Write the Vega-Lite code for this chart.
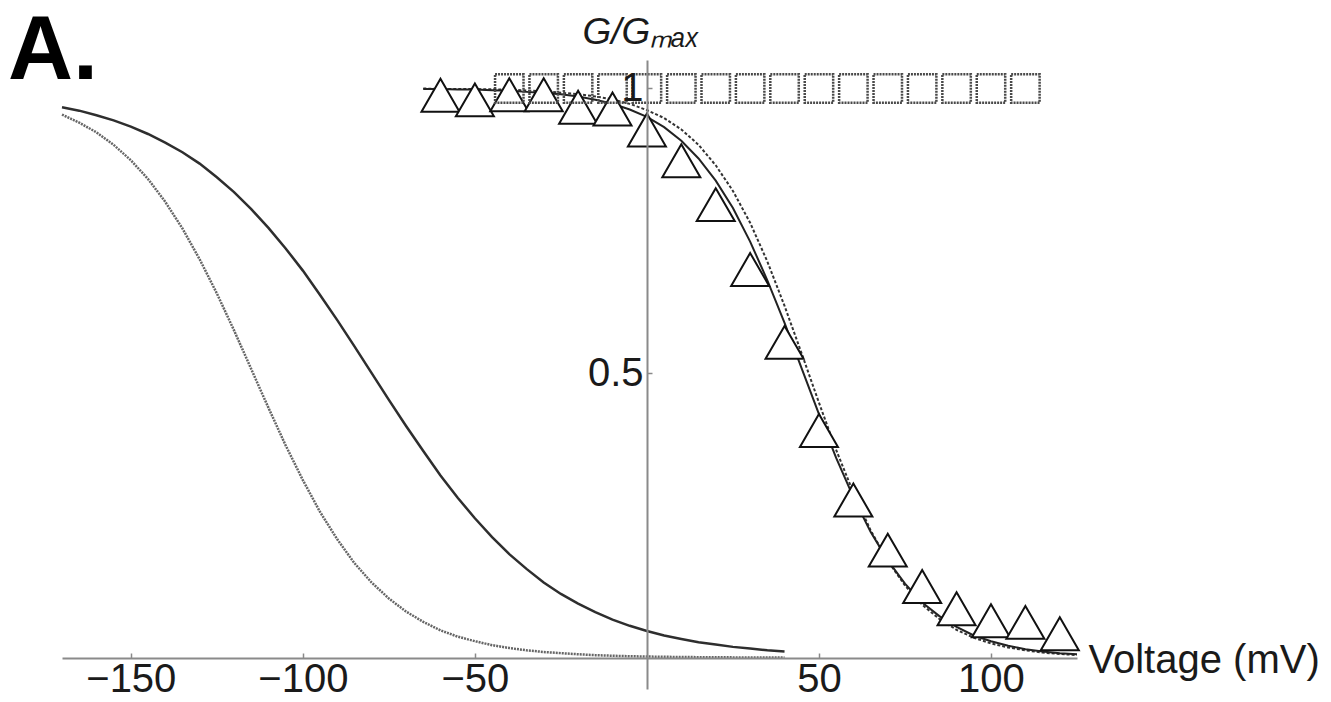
{
  "$schema": "https://vega.github.io/schema/vega-lite/v6.json",
  "autosize": {"type": "none"},
  "padding": {"left": 62, "top": 60, "right": 254, "bottom": 13},
  "width": 1015,
  "height": 629,
  "background": "white",
  "config": {"view": {"stroke": null}},
  "title": {
    "text": "A.",
    "anchor": "start",
    "font": "Liberation Sans",
    "fontSize": 90,
    "fontWeight": "bold",
    "color": "#000000",
    "baseline": "alphabetic",
    "offset": -156,
    "dx": -49,
    "dy": 0
  },
  "datasets": {
    "leftSolid": [
      {"V": -170, "G": 0.967}, {"V": -165, "G": 0.961}, {"V": -160, "G": 0.953}, {"V": -155, "G": 0.944},
      {"V": -150, "G": 0.933}, {"V": -145, "G": 0.920}, {"V": -140, "G": 0.905}, {"V": -135, "G": 0.888},
      {"V": -130, "G": 0.868}, {"V": -125, "G": 0.844}, {"V": -120, "G": 0.818}, {"V": -115, "G": 0.788},
      {"V": -110, "G": 0.755}, {"V": -105, "G": 0.719}, {"V": -100, "G": 0.680}, {"V": -95, "G": 0.637},
      {"V": -90, "G": 0.593}, {"V": -85, "G": 0.547}, {"V": -80, "G": 0.500}, {"V": -75, "G": 0.453},
      {"V": -70, "G": 0.407}, {"V": -65, "G": 0.363}, {"V": -60, "G": 0.320}, {"V": -55, "G": 0.281},
      {"V": -50, "G": 0.245}, {"V": -45, "G": 0.212}, {"V": -40, "G": 0.182}, {"V": -35, "G": 0.156},
      {"V": -30, "G": 0.132}, {"V": -25, "G": 0.112}, {"V": -20, "G": 0.095}, {"V": -15, "G": 0.080},
      {"V": -10, "G": 0.067}, {"V": -5, "G": 0.056}, {"V": 0, "G": 0.047}, {"V": 5, "G": 0.039},
      {"V": 10, "G": 0.033}, {"V": 15, "G": 0.027}, {"V": 20, "G": 0.023}, {"V": 25, "G": 0.019},
      {"V": 30, "G": 0.016}, {"V": 35, "G": 0.013}, {"V": 40, "G": 0.011}
    ],
    "leftDotted": [
      {"V": -170, "G": 0.954}, {"V": -165, "G": 0.940}, {"V": -160, "G": 0.923}, {"V": -155, "G": 0.901},
      {"V": -150, "G": 0.874}, {"V": -145, "G": 0.841}, {"V": -140, "G": 0.801}, {"V": -135, "G": 0.754},
      {"V": -130, "G": 0.700}, {"V": -125, "G": 0.640}, {"V": -120, "G": 0.575}, {"V": -115, "G": 0.507},
      {"V": -110, "G": 0.439}, {"V": -105, "G": 0.373}, {"V": -100, "G": 0.312}, {"V": -95, "G": 0.256},
      {"V": -90, "G": 0.208}, {"V": -85, "G": 0.166}, {"V": -80, "G": 0.132}, {"V": -75, "G": 0.104},
      {"V": -70, "G": 0.081}, {"V": -65, "G": 0.063}, {"V": -60, "G": 0.048}, {"V": -55, "G": 0.037},
      {"V": -50, "G": 0.029}, {"V": -45, "G": 0.022}, {"V": -40, "G": 0.017}, {"V": -35, "G": 0.013},
      {"V": -30, "G": 0.010}, {"V": -25, "G": 0.008}, {"V": -20, "G": 0.006}, {"V": -15, "G": 0.0045},
      {"V": -10, "G": 0.0034}, {"V": -5, "G": 0.0026}, {"V": 0, "G": 0.002}, {"V": 10, "G": 0.0012},
      {"V": 20, "G": 0.0007}, {"V": 30, "G": 0.0004}, {"V": 40, "G": 0.0003}
    ],
    "fitSolid": [
      {"V": -65, "G": 0.999}, {"V": -60, "G": 0.999}, {"V": -55, "G": 0.998}, {"V": -50, "G": 0.998},
      {"V": -45, "G": 0.997}, {"V": -40, "G": 0.996}, {"V": -35, "G": 0.994}, {"V": -30, "G": 0.992},
      {"V": -25, "G": 0.990}, {"V": -20, "G": 0.986}, {"V": -15, "G": 0.980}, {"V": -10, "G": 0.973},
      {"V": -5, "G": 0.963}, {"V": 0, "G": 0.950}, {"V": 5, "G": 0.932}, {"V": 10, "G": 0.908},
      {"V": 15, "G": 0.877}, {"V": 20, "G": 0.838}, {"V": 25, "G": 0.790}, {"V": 30, "G": 0.731},
      {"V": 35, "G": 0.663}, {"V": 40, "G": 0.588}, {"V": 45, "G": 0.508}, {"V": 50, "G": 0.428},
      {"V": 55, "G": 0.351}, {"V": 60, "G": 0.282}, {"V": 65, "G": 0.221}, {"V": 70, "G": 0.171},
      {"V": 75, "G": 0.130}, {"V": 80, "G": 0.097}, {"V": 85, "G": 0.073}, {"V": 90, "G": 0.054},
      {"V": 95, "G": 0.039}, {"V": 100, "G": 0.029}, {"V": 105, "G": 0.021}, {"V": 110, "G": 0.015},
      {"V": 115, "G": 0.011}, {"V": 120, "G": 0.008}, {"V": 125, "G": 0.006}
    ],
    "fitDashed": [
      {"V": -65, "G": 1.0}, {"V": -60, "G": 0.999}, {"V": -50, "G": 0.999}, {"V": -40, "G": 0.998},
      {"V": -30, "G": 0.995}, {"V": -20, "G": 0.990}, {"V": -15, "G": 0.986}, {"V": -10, "G": 0.981},
      {"V": -5, "G": 0.973}, {"V": 0, "G": 0.962}, {"V": 5, "G": 0.948}, {"V": 10, "G": 0.928},
      {"V": 15, "G": 0.901}, {"V": 20, "G": 0.865}, {"V": 25, "G": 0.820}, {"V": 30, "G": 0.764},
      {"V": 35, "G": 0.696}, {"V": 40, "G": 0.618}, {"V": 45, "G": 0.534}, {"V": 50, "G": 0.448},
      {"V": 55, "G": 0.365}, {"V": 60, "G": 0.290}, {"V": 65, "G": 0.224}, {"V": 70, "G": 0.170},
      {"V": 75, "G": 0.127}, {"V": 80, "G": 0.093}, {"V": 85, "G": 0.068}, {"V": 90, "G": 0.049},
      {"V": 95, "G": 0.035}, {"V": 100, "G": 0.025}, {"V": 105, "G": 0.018}, {"V": 110, "G": 0.013},
      {"V": 115, "G": 0.009}, {"V": 120, "G": 0.0065}, {"V": 125, "G": 0.0046}
    ],
    "triangles": [
      {"V": -60, "G": 0.988}, {"V": -50, "G": 0.980}, {"V": -40, "G": 0.989}, {"V": -30, "G": 0.989},
      {"V": -20, "G": 0.967}, {"V": -10, "G": 0.964}, {"V": 0, "G": 0.927}, {"V": 10, "G": 0.873},
      {"V": 20, "G": 0.796}, {"V": 30, "G": 0.682}, {"V": 40, "G": 0.554}, {"V": 50, "G": 0.399},
      {"V": 60, "G": 0.277}, {"V": 70, "G": 0.189}, {"V": 80, "G": 0.125}, {"V": 90, "G": 0.086},
      {"V": 100, "G": 0.065}, {"V": 110, "G": 0.062}, {"V": 120, "G": 0.042}
    ],
    "squares": [
      {"V": -40, "G": 1.0}, {"V": -30, "G": 1.0}, {"V": -20, "G": 1.0}, {"V": -10, "G": 1.0},
      {"V": 0, "G": 1.0}, {"V": 10, "G": 1.0}, {"V": 20, "G": 1.0}, {"V": 30, "G": 1.0},
      {"V": 40, "G": 1.0}, {"V": 50, "G": 1.0}, {"V": 60, "G": 1.0}, {"V": 70, "G": 1.0},
      {"V": 80, "G": 1.0}, {"V": 90, "G": 1.0}, {"V": 100, "G": 1.0}, {"V": 110, "G": 1.0}
    ]
  },
  "encoding": {
    "x": {
      "field": "V",
      "type": "quantitative",
      "scale": {"domain": [-170, 125], "nice": false, "zero": false},
      "axis": {
        "values": [-150, -100, -50, 50, 100],
        "format": "d",
        "offset": -31,
        "zindex": 1,
        "grid": false,
        "domainColor": "#8a8a8a",
        "domainWidth": 2,
        "tickColor": "#8a8a8a",
        "tickSize": -5,
        "tickWidth": 1.5,
        "labelFont": "Liberation Sans",
        "labelFontSize": 40,
        "labelColor": "#1a1a1a",
        "labelPadding": 6,
        "labelOverlap": false,
        "labelFlush": false,
        "title": "Voltage (mV)",
        "titleFont": "Liberation Sans",
        "titleFontSize": 40,
        "titleFontWeight": "normal",
        "titleColor": "#1a1a1a",
        "titleAnchor": "start",
        "titleAlign": "left",
        "titleBaseline": "middle",
        "titleX": 1026,
        "titleY": 2
      }
    },
    "y": {
      "field": "G",
      "type": "quantitative",
      "scale": {"domain": [-0.055, 1.05], "nice": false, "zero": false},
      "axis": {
        "values": [0.5, 1],
        "format": ".1~f",
        "offset": -585,
        "zindex": 1,
        "grid": false,
        "domainColor": "#8a8a8a",
        "domainWidth": 2,
        "tickColor": "#8a8a8a",
        "tickSize": -5,
        "tickWidth": 1.5,
        "labelFont": "Liberation Sans",
        "labelFontSize": 40,
        "labelColor": "#1a1a1a",
        "labelPadding": 9,
        "labelOverlap": false,
        "labelFlush": false,
        "title": "G/Gₘₐₓ",
        "titleFont": "Liberation Sans",
        "titleFontSize": 37,
        "titleFontStyle": "italic",
        "titleFontWeight": "normal",
        "titleColor": "#1a1a1a",
        "titleAngle": 0,
        "titleAlign": "left",
        "titleBaseline": "alphabetic",
        "titleX": -65,
        "titleY": -17
      }
    }
  },
  "layer": [
    {"data": {"name": "leftDotted"}, "mark": {"type": "line", "stroke": "#666666", "strokeWidth": 2.5, "strokeDash": [2, 1]}, "encoding": {}},
    {"data": {"name": "leftSolid"}, "mark": {"type": "line", "stroke": "#2e2e2e", "strokeWidth": 2.5}, "encoding": {}},
    {"data": {"name": "fitDashed"}, "mark": {"type": "line", "stroke": "#333333", "strokeWidth": 2, "strokeDash": [3, 2]}, "encoding": {}},
    {"data": {"name": "fitSolid"}, "mark": {"type": "line", "stroke": "#222222", "strokeWidth": 2}, "encoding": {}},
    {"data": {"name": "triangles"}, "mark": {"type": "point", "shape": "triangle-up", "size": 1444, "filled": false, "fill": "white", "fillOpacity": 1, "stroke": "#111111", "strokeWidth": 2, "opacity": 1}, "encoding": {}},
    {"data": {"name": "squares"}, "mark": {"type": "point", "shape": "square", "size": 810, "filled": false, "fill": null, "stroke": "#4a4a4a", "strokeWidth": 2.5, "strokeDash": [2, 1], "opacity": 1}, "encoding": {}}
  ]
}
